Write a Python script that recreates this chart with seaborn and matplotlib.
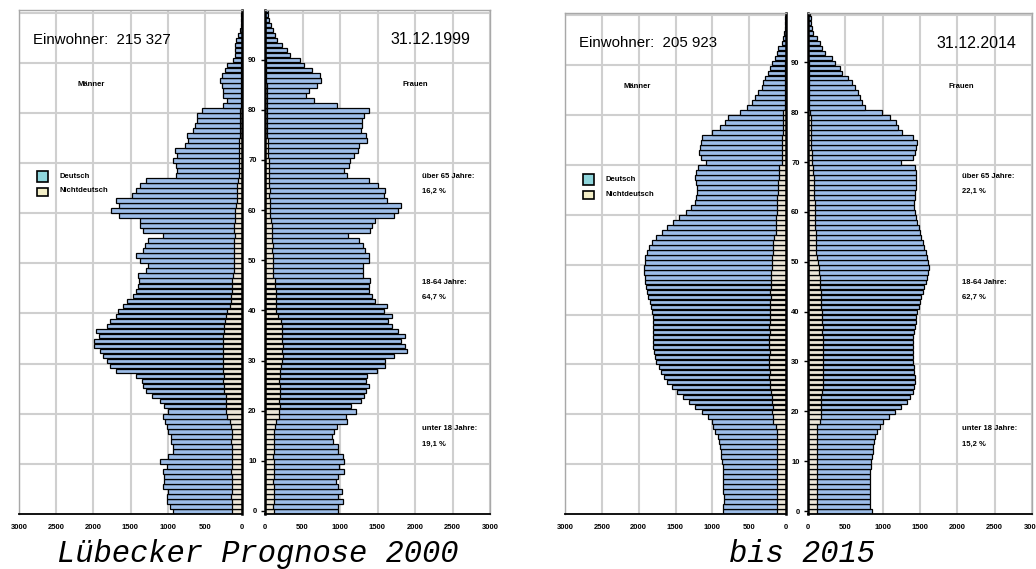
## Bevölkerungspyramiden Lübeck 1999 und Prognose 2014
import numpy as np
import pandas as pd
import seaborn as sns
import matplotlib.pyplot as plt
from matplotlib.patches import Rectangle

alter = list(range(101))

# Männer 31.12.1999 (gesamt / nichtdeutsch)
maenner_1999 = [930, 970, 1010, 1010, 1000, 1065, 1050, 1050, 1065, 1010,
                1100, 1000, 930, 930, 950, 950, 1000, 1010, 1040, 1065,
                1000, 1050, 1100, 1215, 1285, 1335, 1350, 1420, 1690, 1780,
                1820, 1875, 1915, 1995, 1995, 1930, 1970, 1820, 1780, 1690,
                1670, 1600, 1550, 1470, 1420, 1400, 1380, 1400, 1285, 1265,
                1375, 1420, 1335, 1300, 1265, 1065, 1335, 1375, 1375, 1650,
                1760, 1650, 1690, 1485, 1420, 1375, 1285, 890, 880, 890,
                930, 880, 905, 770, 730, 745, 660, 635, 610, 610,
                540, 250, 205, 250, 260, 270, 300, 270, 230, 205,
                120, 95, 95, 95, 74, 55, 30, 20, 12, 8, 5]
maenner_1999_nd = [140, 135, 140, 145, 140, 140, 135, 140, 145, 140,
                   140, 135, 140, 140, 145, 140, 140, 150, 160, 200,
                   210, 215, 210, 220, 240, 245, 250, 245, 250, 255,
                   255, 250, 260, 255, 250, 250, 245, 240, 235, 220,
                   200, 160, 150, 145, 140, 135, 130, 115, 110, 110,
                   110, 105, 110, 110, 105, 100, 110, 105, 100, 95,
                   90, 75, 70, 70, 65, 65, 60, 45, 40, 40,
                   40, 40, 35, 35, 35, 30, 30, 30, 25, 25,
                   25, 15, 15, 15, 15, 15, 15, 12, 12, 10,
                   8, 5, 5, 5, 5, 3, 2, 2, 1, 1, 1]

# Frauen 31.12.1999
frauen_1999 = [970, 970, 1040, 975, 1025, 970, 945, 970, 1055, 985,
               1055, 1040, 975, 970, 900, 890, 915, 960, 1095, 1080,
               1215, 1150, 1280, 1320, 1340, 1390, 1350, 1365, 1490, 1595,
               1595, 1725, 1890, 1865, 1810, 1860, 1770, 1690, 1645, 1690,
               1580, 1620, 1470, 1430, 1380, 1380, 1400, 1310, 1310, 1310,
               1380, 1380, 1330, 1310, 1255, 1105, 1400, 1430, 1460, 1725,
               1770, 1810, 1620, 1590, 1595, 1500, 1390, 1095, 1055, 1120,
               1135, 1190, 1240, 1255, 1365, 1350, 1280, 1290, 1290, 1325,
               1390, 960, 650, 540, 585, 690, 740, 730, 620, 515,
               460, 330, 295, 225, 160, 135, 100, 80, 55, 40, 40]
frauen_1999_nd = [115, 110, 115, 120, 115, 115, 110, 115, 120, 115,
                  115, 110, 115, 115, 120, 115, 120, 130, 150, 180,
                  190, 195, 190, 195, 200, 195, 190, 195, 200, 215,
                  230, 235, 230, 235, 230, 225, 230, 220, 210, 170,
                  150, 150, 145, 140, 140, 135, 130, 105, 100, 100,
                  100, 100, 95, 100, 95, 90, 95, 90, 85, 65,
                  60, 60, 60, 55, 60, 55, 55, 55, 50, 50,
                  50, 45, 45, 40, 40, 30, 25, 25, 25, 25,
                  25, 20, 20, 20, 20, 20, 15, 15, 15, 12,
                  10, 5, 5, 5, 5, 4, 3, 3, 2, 2, 2]

# Männer 31.12.2014 (Prognose)
maenner_2014 = [855, 860, 840, 840, 850, 855, 855, 855, 855, 855,
                870, 885, 885, 900, 905, 920, 960, 990, 1000, 1060,
                1140, 1230, 1320, 1400, 1480, 1550, 1610, 1660, 1700, 1730,
                1760, 1780, 1790, 1800, 1800, 1810, 1810, 1800, 1800, 1810,
                1820, 1830, 1850, 1870, 1890, 1900, 1910, 1920, 1930, 1930,
                1920, 1910, 1890, 1860, 1820, 1760, 1690, 1610, 1530, 1450,
                1360, 1290, 1240, 1220, 1210, 1210, 1220, 1230, 1220, 1200,
                1080, 1150, 1180, 1170, 1150, 1140, 1005, 895, 825, 785,
                620, 530, 460, 420, 380, 325, 310, 285, 240, 215,
                190, 150, 125, 110, 55, 40, 25, 18, 12, 8, 5]
maenner_2014_nd = [120, 120, 125, 120, 120, 125, 120, 120, 125, 120,
                   120, 125, 120, 120, 125, 120, 125, 130, 170, 180,
                   185, 180, 185, 190, 200, 215, 220, 225, 220, 225,
                   230, 225, 220, 225, 230, 225, 220, 225, 220, 215,
                   220, 215, 220, 210, 215, 210, 205, 200, 200, 195,
                   190, 185, 180, 175, 170, 165, 140, 135, 130, 130,
                   125, 125, 120, 120, 115, 110, 105, 100, 95, 90,
                   60, 60, 55, 55, 50, 50, 45, 45, 40, 40,
                   35, 15, 15, 15, 15, 15, 12, 12, 10, 10,
                   8, 5, 5, 5, 3, 2, 2, 1, 1, 1, 1]

# Frauen 31.12.2014 (Prognose)
frauen_2014 = [860, 830, 830, 830, 830, 830, 830, 830, 830, 840,
               850, 860, 870, 875, 885, 900, 925, 965, 1005, 1080,
               1170, 1250, 1320, 1370, 1400, 1420, 1430, 1430, 1420, 1420,
               1410, 1410, 1400, 1400, 1400, 1410, 1420, 1430, 1440, 1450,
               1460, 1480, 1500, 1520, 1540, 1560, 1580, 1600, 1610, 1620,
               1610, 1600, 1580, 1560, 1540, 1520, 1500, 1480, 1460, 1450,
               1430, 1420, 1420, 1430, 1430, 1440, 1440, 1450, 1440, 1430,
               1250, 1400, 1430, 1450, 1460, 1410, 1260, 1205, 1180, 1100,
               990, 765, 720, 700, 675, 630, 590, 540, 455, 430,
               360, 320, 230, 185, 160, 120, 70, 55, 45, 35, 30]
frauen_2014_nd = [115, 115, 120, 115, 115, 120, 115, 115, 120, 115,
                  115, 120, 115, 115, 120, 115, 120, 125, 160, 170,
                  175, 170, 175, 180, 190, 195, 200, 205, 200, 205,
                  200, 205, 200, 195, 200, 195, 190, 195, 190, 185,
                  185, 180, 175, 175, 170, 165, 160, 155, 150, 145,
                  140, 115, 110, 110, 110, 105, 105, 100, 100, 95,
                  95, 90, 90, 85, 85, 80, 80, 75, 70, 70,
                  50, 50, 50, 45, 45, 45, 40, 40, 35, 35,
                  30, 15, 15, 15, 15, 15, 12, 12, 10, 10,
                  8, 5, 5, 5, 3, 3, 2, 2, 2, 1, 1]

jahre = [
    dict(datum="31.12.1999", einwohner="215 327",
         ueber65="16,2 %", mitte="64,7 %", unter18="19,1 %",
         m=maenner_1999, m_nd=maenner_1999_nd, f=frauen_1999, f_nd=frauen_1999_nd),
    dict(datum="31.12.2014", einwohner="205 923",
         ueber65="22,1 %", mitte="62,7 %", unter18="15,2 %",
         m=maenner_2014, m_nd=maenner_2014_nd, f=frauen_2014, f_nd=frauen_2014_nd),
]

blau = "#9dbde8"
beige = "#ece6d8"
grau = "#a8a8a8"

sns.set_style("white")
plt.rcParams['font.family'] = ['Liberation Sans', 'DejaVu Sans']
plt.rcParams['text.color'] = 'black'
plt.rcParams['xtick.color'] = 'black'
plt.rcParams['ytick.color'] = 'black'

W, H = 1036, 569
fig = plt.figure(figsize=(W / 100, H / 100), dpi=100)


def box(x0, x1, y0, y1):
    return [x0 / W, 1 - y1 / H, (x1 - x0) / W, (y1 - y0) / H]


def ftext(x, y, s, **kw):
    fig.text(x / W, 1 - y / H, s, color="black", **kw)


def pyramide(ax, gesamt, nd, maennlich):
    df = pd.DataFrame({"alter": np.array(alter) + 0.5, "gesamt": gesamt, "nd": nd})
    sns.barplot(data=df, x="gesamt", y="alter", orient="y", native_scale=True,
                color=blau, edgecolor="black", linewidth=0.9, width=0.92,
                errorbar=None, saturation=1, ax=ax)
    sns.barplot(data=df, x="nd", y="alter", orient="y", native_scale=True,
                color=beige, edgecolor="black", linewidth=0.9, width=0.92,
                errorbar=None, saturation=1, ax=ax)
    ax.set_ylim(0, 100.5)
    if maennlich:
        ax.set_xlim(3000, 0)
    else:
        ax.set_xlim(0, 3000)
    ax.set_xticks(range(0, 3001, 500))
    ax.set_xticklabels([str(v) for v in range(0, 3001, 500)],
                       fontsize=5.5, fontweight="bold")
    # Beschriftung auf Balkenmitte, Gitter auf Dekadengrenze
    ax.set_yticks([a + 0.6 for a in range(0, 91, 10)])
    ax.set_yticks(range(10, 101, 10), minor=True)
    ax.grid(True, axis="x", color="#cfcfcf", linewidth=1.5)
    ax.grid(True, axis="y", which="minor", color="#cfcfcf", linewidth=1.5)
    ax.grid(False, axis="y", which="major")
    ax.set_axisbelow(True)
    ax.set_xlabel("")
    ax.set_ylabel("")
    ax.tick_params(axis="x", direction="out", length=3, width=1, pad=4)
    ax.tick_params(axis="y", which="minor", length=0)
    innen = "right" if maennlich else "left"
    aussen = "left" if maennlich else "right"
    ax.spines[innen].set_color("black")
    ax.spines[innen].set_linewidth(1.8)
    ax.spines["bottom"].set_color("black")
    ax.spines["bottom"].set_linewidth(1.3)
    for s in ["top", aussen]:
        ax.spines[s].set_color(grau)
        ax.spines[s].set_linewidth(1.0)
    if maennlich:
        ax.tick_params(axis="y", which="major", left=False, right=False,
                       labelleft=False)
    else:
        ax.set_yticklabels([str(v) for v in range(0, 91, 10)],
                           fontsize=5.5, fontweight="bold")
        ax.tick_params(axis="y", which="major", direction="out", length=3,
                       width=1, pad=3, left=True)


panels = [
    dict(m=(19, 242), f=(265, 490), top=10, dx=0),
    dict(m=(565, 786), f=(808, 1032), top=13, dx=546),
]

for jahr, p in zip(jahre, panels):
    ax_m = fig.add_axes(box(p["m"][0], p["m"][1], p["top"], 514))
    ax_f = fig.add_axes(box(p["f"][0], p["f"][1], p["top"], 514))
    pyramide(ax_m, jahr["m"], jahr["m_nd"], True)
    pyramide(ax_f, jahr["f"], jahr["f_nd"], False)

    dx = p["dx"]
    dy = p["top"] - 10
    ftext(33 + dx, 40 + dy, "Einwohner:  " + jahr["einwohner"], fontsize=10.8,
          va="center", ha="left")
    ftext(470 + dx, 40 + dy, jahr["datum"], fontsize=11.5, va="center", ha="right")
    ftext(91 + dx, 84 + dy, "Männer", fontsize=5.5, fontweight="bold",
          va="center", ha="center")
    ftext(415 + dx, 84 + dy, "Frauen", fontsize=5.5, fontweight="bold",
          va="center", ha="center")

    # Legende
    fig.add_artist(Rectangle(((37 + dx) / W, 1 - (182 + dy) / H), 11 / W, 11 / H,
                             facecolor="#8fd6dc", edgecolor="black", lw=1.2,
                             transform=fig.transFigure))
    fig.add_artist(Rectangle(((37 + dx) / W, 1 - (196 + dy) / H), 11 / W, 8 / H,
                             facecolor="#f4efc8", edgecolor="black", lw=1.2,
                             transform=fig.transFigure))
    ftext(59 + dx, 176 + dy, "Deutsch", fontsize=5.5, fontweight="bold", va="center")
    ftext(59 + dx, 191 + dy, "Nichtdeutsch", fontsize=5.5, fontweight="bold", va="center")

    # Altersgruppen
    tx = 422 + dx + (0 if dx == 0 else -6)
    ftext(tx, 176, "über 65 Jahre:", fontsize=5.5, fontweight="bold", va="center")
    ftext(tx, 191, jahr["ueber65"], fontsize=5.5, fontweight="bold", va="center")
    ftext(tx, 282, "18-64 Jahre:", fontsize=5.5, fontweight="bold", va="center")
    ftext(tx, 297, jahr["mitte"], fontsize=5.5, fontweight="bold", va="center")
    ftext(tx, 429, "unter 18 Jahre:", fontsize=5.5, fontweight="bold", va="center")
    ftext(tx, 444, jahr["unter18"], fontsize=5.5, fontweight="bold", va="center")

ftext(258, 562, "Lübecker Prognose 2000", fontsize=22, family="Liberation Mono",
      style="italic", ha="center", va="baseline")
ftext(802, 562, "bis 2015", fontsize=22, family="Liberation Mono",
      style="italic", ha="center", va="baseline")

fig.savefig("out.png", dpi=100)
